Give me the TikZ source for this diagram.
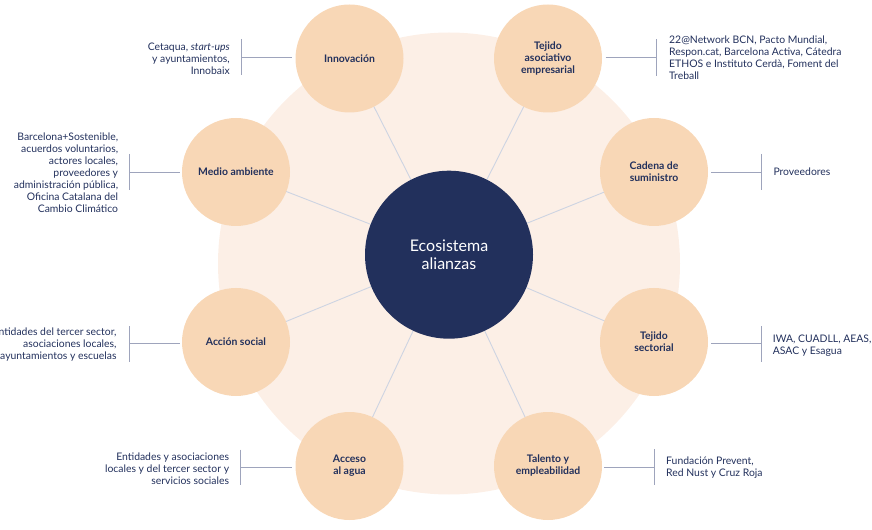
\documentclass[tikz,border=0pt]{standalone}
\usepackage{fontspec}
\setmainfont{Lato}
\definecolor{bgpeach}{HTML}{FCEFE6}
\definecolor{satfill}{HTML}{F8D7B6}
\definecolor{navy}{HTML}{22305C}
\definecolor{spoke}{HTML}{CDD4E2}
\definecolor{tick}{HTML}{9EA4BC}
\tikzset{
  sat/.style={circle, fill=satfill, minimum size=108bp, inner sep=0pt, align=center,
    text=navy, font=\fontsize{10.4bp}{12bp}\selectfont\bfseries},
  hub/.style={circle, fill=navy, minimum size=168bp, inner sep=0pt, align=center,
    text=white, font=\fontsize{16bp}{18.5bp}\selectfont},
  spokeline/.style={draw=spoke, line width=0.9bp},
  tickline/.style={draw=tick, line width=0.9bp},
  rtext/.style={anchor=east, align=right, text=navy, inner sep=0pt,
    font=\fontsize{10.4bp}{12bp}\selectfont},
  ltext/.style={anchor=west, align=left, text=navy, inner sep=0pt,
    font=\fontsize{10.4bp}{12bp}\selectfont},
}
\begin{document}
\begin{tikzpicture}[x=1bp,y=-1bp]
\useasboundingbox (0,0) rectangle (872,530);
\clip (0,0) rectangle (872,530);
% background disc
\fill[bgpeach] (449,263.5) circle (231);
% hub position
\coordinate (hc) at (449,254.7);
% satellite centres
\coordinate (c1) at (349.5,58.5);
\coordinate (c2) at (548,58.5);
\coordinate (c3) at (236,172);
\coordinate (c4) at (654,172);
\coordinate (c5) at (236,342);
\coordinate (c6) at (654,342);
\coordinate (c7) at (349.5,466);
\coordinate (c8) at (548,466);
% spokes (behind circles)
\foreach \i in {1,...,8} \draw[spokeline] (hc) -- (c\i);
% hub
\node[hub] (hub) at (hc) {Ecosistema\\alianzas};
% satellites
\node[sat] (inno) at (c1) {Innovación};
\node[sat] (teji) at (c2) {Tejido\\asociativo\\empresarial};
\node[sat] (medio) at (c3) {Medio ambiente};
\node[sat] (cade) at (c4) {Cadena de\\suministro};
\node[sat] (accion) at (c5) {Acción social};
\node[sat] (sect) at (c6) {Tejido\\sectorial};
\node[sat] (agua) at (c7) {Acceso\\al agua};
\node[sat] (tal) at (c8) {Talento y\\empleabilidad};

% --- Innovación label (left)
\coordinate (b1t) at (241,39); \coordinate (b1b) at (241,75.3);
\coordinate (b1m) at (241,57.3); \coordinate (e1) at (291.7,57.3);
\draw[tickline] (b1t) -- (b1b);
\draw[tickline] (b1m) -- (e1);
\node[rtext] (t1) at (230,59) {Cetaqua, \textit{start-ups}\\y ayuntamientos,\\Innobaix};

% --- Tejido asociativo label (right)
\coordinate (b2t) at (656,39.3); \coordinate (b2b) at (656,75.7);
\coordinate (b2m) at (656,57.3); \coordinate (e2) at (605.7,57.3);
\draw[tickline] (b2t) -- (b2b);
\draw[tickline] (e2) -- (b2m);
\node[ltext] (t2) at (669,57.3) {22@Network BCN, Pacto Mundial,\\Respon.cat, Barcelona Activa, Cátedra\\ETHOS e Instituto Cerdà, Foment del\\Treball};

% --- Medio ambiente label (left)
\coordinate (b3t) at (129.3,154); \coordinate (b3b) at (129.3,190);
\coordinate (b3m) at (129.3,172); \coordinate (e3) at (180,172);
\draw[tickline] (b3t) -- (b3b);
\draw[tickline] (b3m) -- (e3);
\node[rtext] (t3) at (118.3,172.5) {Barcelona+Sostenible,\\acuerdos voluntarios,\\actores locales,\\proveedores y\\administración pública,\\Oficina Catalana del\\Cambio Climático};

% --- Cadena label (right)
\coordinate (b4t) at (761.7,154); \coordinate (b4b) at (761.7,190);
\coordinate (b4m) at (761.7,172); \coordinate (e4) at (711,172);
\draw[tickline] (b4t) -- (b4b);
\draw[tickline] (e4) -- (b4m);
\node[ltext] (t4) at (773.3,172) {Proveedores};

% --- Acción social label (left)
\coordinate (b5t) at (129.3,326); \coordinate (b5b) at (129.3,362);
\coordinate (b5m) at (129.3,343.7); \coordinate (e5) at (180,343.7);
\draw[tickline] (b5t) -- (b5b);
\draw[tickline] (b5m) -- (e5);
\node[rtext] (t5) at (116.7,344.5) {Entidades del tercer sector,\\asociaciones locales,\\ayuntamientos y escuelas};

% --- Tejido sectorial label (right)
\coordinate (b6t) at (761.7,326); \coordinate (b6b) at (761.7,362);
\coordinate (b6m) at (761.7,343.7); \coordinate (e6) at (711,343.7);
\draw[tickline] (b6t) -- (b6b);
\draw[tickline] (e6) -- (b6m);
\node[ltext] (t6) at (772.7,346) {IWA, CUADLL, AEAS,\\ASAC y Esagua};

% --- Acceso al agua label (left)
\coordinate (b7t) at (240.7,449.7); \coordinate (b7b) at (240.7,485.3);
\coordinate (b7m) at (240.7,467.3); \coordinate (e7) at (291.7,467.3);
\draw[tickline] (b7t) -- (b7b);
\draw[tickline] (b7m) -- (e7);
\node[rtext] (t7) at (229.3,468.3) {Entidades y asociaciones\\locales y del tercer sector y\\servicios sociales};

% --- Talento label (right)
\coordinate (b8t) at (654,449.3); \coordinate (b8b) at (654,485.3);
\coordinate (b8m) at (654,467.3); \coordinate (e8) at (604,467.3);
\draw[tickline] (b8t) -- (b8b);
\draw[tickline] (e8) -- (b8m);
\node[ltext] (t8) at (666,468) {Fundación Prevent,\\Red Nust y Cruz Roja};
\end{tikzpicture}
\end{document}
